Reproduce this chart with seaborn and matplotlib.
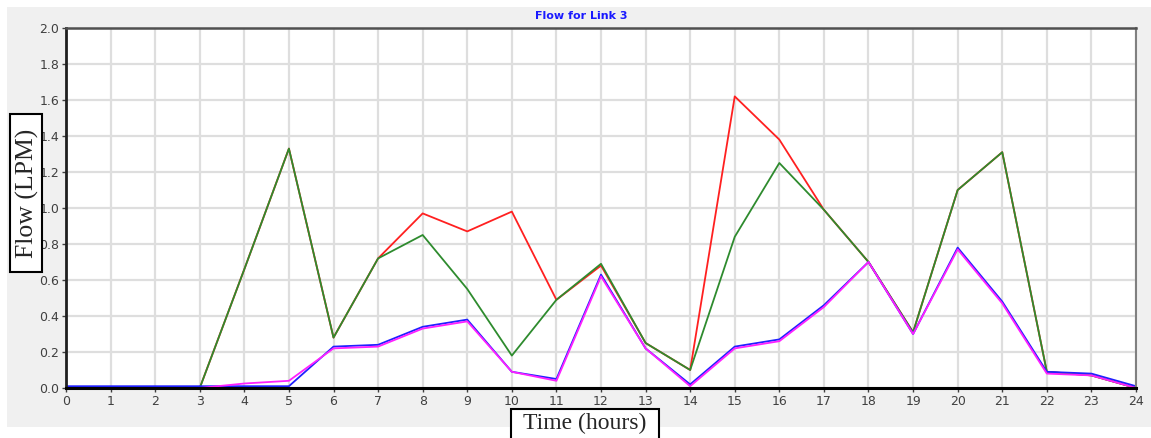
import numpy as np
import pandas as pd
import matplotlib
matplotlib.use("Agg")
import matplotlib.pyplot as plt
from matplotlib.patches import Rectangle
import seaborn as sns

hours = list(range(25))
red_flow = [0, 0, 0, 0, 0.66, 1.33, 0.28, 0.72, 0.97, 0.87, 0.98, 0.49, 0.68,
            0.25, 0.10, 1.62, 1.38, 0.99, 0.70, 0.31, 1.10, 1.31, 0.09, 0.07, 0.0]
green_flow = [0, 0, 0, 0, 0.66, 1.33, 0.28, 0.72, 0.85, 0.55, 0.18, 0.49, 0.69,
              0.25, 0.10, 0.84, 1.25, 0.99, 0.70, 0.31, 1.10, 1.31, 0.09, 0.07, 0.0]
blue_flow = [0.01, 0.01, 0.01, 0.01, 0.01, 0.01, 0.23, 0.24, 0.34, 0.38, 0.09, 0.05, 0.63,
             0.22, 0.02, 0.23, 0.27, 0.46, 0.70, 0.30, 0.78, 0.48, 0.09, 0.08, 0.01]
magenta_flow = [0, 0, 0, 0, 0.025, 0.04, 0.22, 0.23, 0.33, 0.37, 0.09, 0.04, 0.62,
                0.22, 0.01, 0.22, 0.26, 0.45, 0.70, 0.30, 0.77, 0.47, 0.08, 0.07, 0.0]

series = {"red": red_flow, "green": green_flow, "blue": blue_flow, "magenta": magenta_flow}
df = pd.concat([pd.DataFrame({"Time": hours, "Flow": v, "series": k}) for k, v in series.items()])

sns.set_style("whitegrid")
W, H = 1151, 438
fig = plt.figure(figsize=(W / 100, H / 100), dpi=100, facecolor="white")

# grey panel behind the chart
fig.add_artist(Rectangle((7 / W, 11 / H), (W - 7) / W, (H - 18) / H, transform=fig.transFigure,
                         facecolor="#f0f0f0", edgecolor="none", zorder=-5))

ax = fig.add_axes([66 / W, 50 / H, 1070 / W, 360 / H])
ax.set_facecolor("white")
sns.lineplot(data=df, x="Time", y="Flow", hue="series", ax=ax, legend=False,
             palette={"red": "#ff2020", "green": "#2e8b2e", "blue": "#2020ff", "magenta": "#ff20ff"},
             hue_order=["red", "green", "blue", "magenta"], linewidth=1.3)

ax.set_xlim(0, 24)
ax.set_ylim(0, 2.0)
ax.set_xticks(hours)
ax.set_yticks(np.arange(0, 2.01, 0.2))
ax.set_yticklabels([f"{v:.1f}" for v in np.arange(0, 2.01, 0.2)])
ax.grid(True, color="#dedede", linewidth=1.6)
ax.tick_params(axis="both", labelsize=9, labelcolor="#404040", length=3, width=1,
               color="#404040", direction="out", left=True, bottom=True, pad=2)
ax.set_xlabel("")
ax.set_ylabel("")
for side, c, lw in [("left", "#202020", 2), ("bottom", "#000000", 2.2),
                    ("top", "#505050", 1.8), ("right", "#808080", 1.5)]:
    ax.spines[side].set_color(c)
    ax.spines[side].set_linewidth(lw)
    ax.spines[side].set_visible(True)

fig.text(581 / W, 1 - 16 / H, "Flow for Link 3", color="#1a1aff", fontweight="bold",
         fontsize=8, ha="center", va="center")

# boxed axis labels
fig.add_artist(Rectangle((10 / W, 1 - 272 / H), 32 / W, 158 / H, transform=fig.transFigure,
                         facecolor="white", edgecolor="black", linewidth=1.5, zorder=5))
fig.text(27 / W, 1 - 193 / H, "Flow (LPM)", rotation=90, ha="center", va="center",
         family="Liberation Serif", fontsize=18.5, zorder=6)
fig.add_artist(Rectangle((511 / W, -0.01), 148 / W, (438 - 409) / H + 0.01, transform=fig.transFigure,
                         facecolor="white", edgecolor="black", linewidth=1.5, zorder=5))
fig.text(585 / W, 1 - 423 / H, "Time (hours)", ha="center", va="center",
         family="Liberation Serif", fontsize=17, zorder=6)

plt.savefig("out.png", dpi=100)
